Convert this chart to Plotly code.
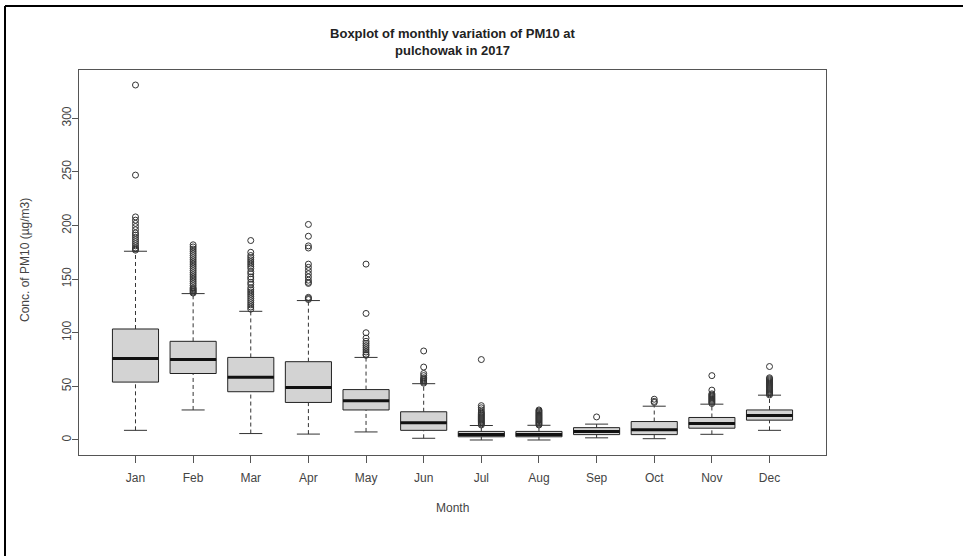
import plotly.graph_objects as go

months = ["Jan", "Feb", "Mar", "Apr", "May", "Jun", "Jul", "Aug", "Sep", "Oct", "Nov", "Dec"]
pos = list(range(1, 13))

q1 = [54, 62, 45, 35, 28, 9, 3, 3, 5, 5, 11, 18.5]
median = [76, 75, 58.5, 49, 36.5, 16, 5, 5, 8, 9.5, 15.3, 22.8]
q3 = [103.5, 92, 77, 73, 47, 26.3, 8, 8, 11.5, 17.2, 21, 28]
whisker_low = [9, 28, 6, 5.5, 7.5, 1.6, 0, 0, 2, 1.2, 5.3, 9]
whisker_high = [176, 136.5, 120, 130, 77, 52.5, 13.5, 13.7, 14.8, 31.5, 33.4, 41.8]

outliers = {
    "Jan": [331, 247, 208, 205, 202, 199, 196, 193, 191, 189, 187, 185, 183, 181, 179, 178, 177],
    "Feb": [182, 180, 178, 176, 174, 172, 170, 168, 166, 164, 162, 160, 158, 156, 154, 152,
            150, 148, 146, 144, 142, 141, 140, 139, 138, 137],
    "Mar": [186, 175, 172, 170, 168, 166, 164, 162, 160, 157, 155, 152, 150, 147, 145, 142,
            140, 138, 136, 134, 132, 130, 128, 126, 124, 122],
    "Apr": [201, 190, 181, 179, 164, 161, 158, 155, 152, 149, 147, 146, 133, 132, 131],
    "May": [164, 118, 100, 95, 92, 90, 88, 86, 84, 82, 80, 79],
    "Jun": [83, 68, 62, 60, 58, 57, 56, 55, 54, 53],
    "Jul": [75, 32, 30, 28, 26, 25, 24, 23, 22, 21, 20, 19, 18, 17, 16, 15, 14],
    "Aug": [28, 27, 26, 25, 24, 23, 22, 21, 20, 19, 18, 17, 16, 15, 14],
    "Sep": [21.5],
    "Oct": [38, 36, 35],
    "Nov": [60, 46.5, 43, 42, 41, 40, 39, 38, 37, 36, 35, 34],
    "Dec": [68.5, 58, 57, 56, 55, 54, 53, 52, 51, 50, 49, 48, 47, 46, 45, 44, 43, 42],
}

y_ticks = [0, 50, 100, 150, 200, 250, 300]

BOX_HALF = 0.4
CAP_HALF = 0.2

fig = go.Figure()

# whiskers (dashed)
wx, wy = [], []
for p, a, b, c, d in zip(pos, whisker_low, q1, q3, whisker_high):
    wx += [p, p, None, p, p, None]
    wy += [a, b, None, c, d, None]
fig.add_trace(go.Scatter(x=wx, y=wy, mode="lines",
                         line=dict(color="#333333", width=1, dash="4px,3px"),
                         hoverinfo="skip", showlegend=False))

# caps
cx, cy = [], []
for p, a, d in zip(pos, whisker_low, whisker_high):
    cx += [p - CAP_HALF, p + CAP_HALF, None, p - CAP_HALF, p + CAP_HALF, None]
    cy += [a, a, None, d, d, None]
fig.add_trace(go.Scatter(x=cx, y=cy, mode="lines",
                         line=dict(color="#333333", width=1),
                         hoverinfo="skip", showlegend=False))

# boxes
fig.add_trace(go.Box(x=pos, q1=q1, median=median, q3=q3,
                     lowerfence=q1, upperfence=q3,
                     width=2 * BOX_HALF, whiskerwidth=0,
                     fillcolor="#d3d3d3", line=dict(color="#222222", width=1),
                     boxpoints=False, showlegend=False, hoverinfo="skip"))

# thick medians
mx, my = [], []
for p, m in zip(pos, median):
    mx += [p - BOX_HALF, p + BOX_HALF, None]
    my += [m, m, None]
fig.add_trace(go.Scatter(x=mx, y=my, mode="lines",
                         line=dict(color="#111111", width=3),
                         hoverinfo="skip", showlegend=False))

# outliers
ox, oy = [], []
for p, m in zip(pos, months):
    for v in outliers[m]:
        ox.append(p)
        oy.append(v)
fig.add_trace(go.Scatter(x=ox, y=oy, mode="markers",
                         marker=dict(symbol="circle-open", size=6, color="#333333",
                                     line=dict(width=1)),
                         hoverinfo="skip", showlegend=False))

L, R, T, B = 79, 137, 70, 101
W, H = 963, 556
pw, ph = W - L - R, H - T - B

def px_x(x):
    return (x - L) / pw

def px_y(y):
    return (H - B - y) / ph

font_family = "Liberation Sans, Arial, sans-serif"

fig.update_layout(
    width=W, height=H,
    margin=dict(l=L, r=R, t=T, b=B),
    paper_bgcolor="white", plot_bgcolor="white",
    font=dict(family=font_family, size=12, color="#444444"),
    title=dict(text="<b>Boxplot of monthly variation of PM10 at<br>pulchowak in 2017</b>",
               x=0.5, xref="paper", xanchor="center",
               y=1 - 38 / H, yref="container", yanchor="middle",
               font=dict(size=13, color="#222222", family=font_family)),
    xaxis=dict(range=[0.02, 12.98], tickmode="array", tickvals=pos, ticktext=months,
               ticks="outside", ticklen=7, tickcolor="#555555", showgrid=False,
               zeroline=False, showline=True, mirror=True, linecolor="#555555",
               linewidth=1, ticklabelstandoff=5,
               tickfont=dict(size=12, color="#444444")),
    yaxis=dict(range=[-14, 345], tickmode="array", tickvals=y_ticks,
               ticks="outside", ticklen=6, tickcolor="#555555", showgrid=False,
               zeroline=False, showline=True, mirror=True, linecolor="#555555",
               linewidth=1, tickangle=-90, ticklabelstandoff=-4,
               tickfont=dict(size=12, color="#444444")),
    annotations=[
        dict(text="Month", xref="paper", yref="paper", x=0.5, y=px_y(508),
             xanchor="center", yanchor="middle", showarrow=False,
             font=dict(size=12, color="#444444")),
        dict(text="Conc. of PM10 (µg/m3)", xref="paper", yref="paper",
             x=px_x(25), y=px_y(260), textangle=-90,
             xanchor="center", yanchor="middle", showarrow=False,
             font=dict(size=12, color="#444444")),
    ],
    shapes=[
        dict(type="line", xref="paper", yref="paper",
             x0=px_x(5), x1=px_x(W + 5), y0=px_y(6), y1=px_y(6),
             line=dict(color="black", width=2)),
        dict(type="line", xref="paper", yref="paper",
             x0=px_x(5), x1=px_x(5), y0=px_y(6), y1=px_y(H + 5),
             line=dict(color="black", width=2)),
    ],
)

fig.write_html("out.html", config={"displayModeBar": False},
               post_script="document.body.style.margin='0';document.body.style.overflow='hidden';")
